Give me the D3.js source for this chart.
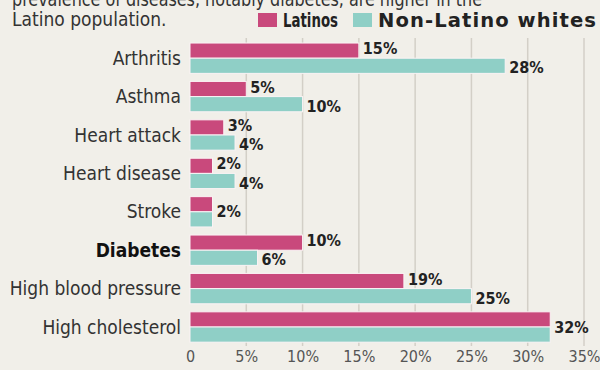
<!DOCTYPE html>
<html><head><meta charset="utf-8">
<script src="https://cdn.jsdelivr.net/npm/d3@7"></script>
<style>
html,body{margin:0;padding:0;background:#f1efe9;}
svg{display:block;}
text{font-family:"DejaVu Sans Condensed","Liberation Sans Narrow",sans-serif;}
</style></head><body>
<svg id="c" width="600" height="370"></svg>
<script>
const categories = ["Arthritis","Asthma","Heart attack","Heart disease","Stroke","Diabetes","High blood pressure","High cholesterol"];
const latinos = [15,5,3,2,2,10,19,32];
const nonLatinoWhites = [28,10,4,4,2,6,25,32];
const seriesNames = ["Latinos","Non-Latino whites"];
const tickValues = [0,5,10,15,20,25,30,35];
const tickLabels = ["0","5%","10%","15%","20%","25%","30%","35%"];
const titleLines = ["prevalence of diseases, notably diabetes, are higher in the","Latino population."];
const highlight = "Diabetes";

const colors = ["#c9497c","#8fcfc6"];
const svg = d3.select("#c");
svg.append("rect").attr("width",600).attr("height",370).attr("fill","#f1efe9");

const x = d3.scaleLinear().domain([0,35]).range([190,584]);
const y = d3.scaleBand().domain(categories).range([39,346.2]).paddingInner(0.21).paddingOuter(0.105);
const sub = d3.scaleBand().domain(seriesNames).range([0,y.bandwidth()]);

// gridlines
svg.append("g").selectAll("line").data(tickValues.filter(d=>d>0)).join("line")
  .attr("x1",d=>x(d)).attr("x2",d=>x(d)).attr("y1",38).attr("y2",346)
  .attr("stroke","#d3cfc7").attr("stroke-width",1.5);

// tick labels via axis
const axis = d3.axisBottom(x).tickValues(tickValues).tickFormat((d,i)=>tickLabels[i]).tickSize(0).tickPadding(0);
const ag = svg.append("g").attr("transform","translate(0,351)").call(axis);
ag.select(".domain").remove();
ag.selectAll("text").attr("font-size",16).attr("fill","#555").attr("dy","0.71em")
  .style("font-family",'"DejaVu Sans Condensed",sans-serif');

const data = categories.map((c,i)=>({cat:c, vals:[latinos[i],nonLatinoWhites[i]]}));

const g = svg.append("g");
data.forEach(d=>{
  seriesNames.forEach((s,j)=>{
    g.append("rect")
      .attr("x",x(0)).attr("y",y(d.cat)+sub(s))
      .attr("width",x(d.vals[j])-x(0)).attr("height",sub.bandwidth())
      .attr("fill",colors[j]).attr("stroke","#fbf3f5").attr("stroke-width",1);
  });
  const same = d.vals[0]===d.vals[1];
  if(same){
    g.append("text").attr("x",x(d.vals[0])+4).attr("y",y(d.cat)+y.bandwidth()/2)
      .attr("dy","0.35em").attr("font-size",16).attr("font-weight","bold").attr("fill","#222")
      .text(d.vals[0]+"%");
  } else {
    seriesNames.forEach((s,j)=>{
      g.append("text").attr("x",x(d.vals[j])+4).attr("y",y(d.cat)+sub(s)+sub.bandwidth()/2 + (j===0?-2:2))
        .attr("dy","0.35em").attr("font-size",16).attr("font-weight","bold").attr("fill","#222")
        .text(d.vals[j]+"%");
    });
  }
  g.append("text").attr("x",181).attr("y",y(d.cat)+y.bandwidth()/2)
    .attr("dy","0.35em").attr("text-anchor","end").attr("font-size",19)
    .attr("font-weight",d.cat===highlight?"bold":"normal").attr("fill",d.cat===highlight?"#111":"#333")
    .text(d.cat);
});

// title
svg.append("text").attr("x",12).attr("y",6).attr("font-size",19).attr("fill","#333")
  .attr("textLength",470).attr("lengthAdjust","spacingAndGlyphs").text(titleLines[0]);
svg.append("text").attr("x",12).attr("y",26).attr("font-size",19).attr("fill","#333").text(titleLines[1]);

// legend
const leg = svg.append("g");
const legX = [258,353];
const legW = [55,219];
const legFs = [19,20];
const legLs = [0,1];
seriesNames.forEach((s,j)=>{
  leg.append("rect").attr("x",legX[j]).attr("y",13).attr("width",19).attr("height",14).attr("fill",colors[j]);
  leg.append("text").attr("x",legX[j]+25).attr("y",20).attr("dy","0.35em").attr("font-size",legFs[j])
    .attr("font-weight","bold").attr("fill","#222").attr("letter-spacing",legLs[j])
    .attr("textLength",legW[j]).attr("lengthAdjust","spacingAndGlyphs").text(s);
});
</script>
</body></html>
